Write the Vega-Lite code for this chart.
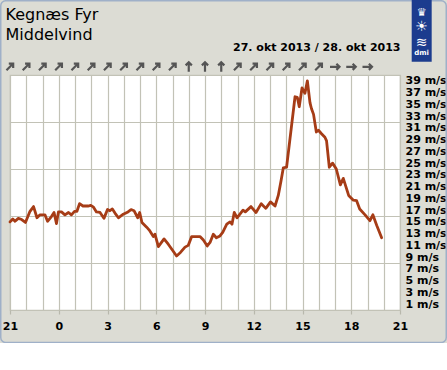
{
  "$schema": "https://vega.github.io/schema/vega-lite/v6.json",
  "width": 390,
  "height": 235,
  "autosize": "none",
  "padding": {"left": 10, "top": 75, "right": 47, "bottom": 33},
  "background": "#dcdcd4",
  "title": {
    "text": ["Kegnæs Fyr", "Middelvind"],
    "anchor": "start",
    "frame": "group",
    "dx": -4.5,
    "font": "DejaVu Sans",
    "fontSize": 16,
    "fontWeight": "normal",
    "color": "#000000",
    "lineHeight": 20,
    "offset": -44.5
  },
  "config": {
    "view": {"stroke": "#c2c2b6", "strokeWidth": 1.2, "fill": "#ffffff"}
  },
  "datasets": {
    "vind": [
      {"time": 0.00, "vind": 15.0}, {"time": 0.17, "vind": 15.5}, {"time": 0.31, "vind": 15.1},
      {"time": 0.51, "vind": 15.6}, {"time": 0.72, "vind": 15.4}, {"time": 0.95, "vind": 14.9},
      {"time": 1.23, "vind": 16.8}, {"time": 1.45, "vind": 17.6}, {"time": 1.66, "vind": 15.7},
      {"time": 1.85, "vind": 16.2}, {"time": 2.15, "vind": 16.2}, {"time": 2.31, "vind": 15.1},
      {"time": 2.55, "vind": 15.9}, {"time": 2.71, "vind": 16.6}, {"time": 2.86, "vind": 14.7},
      {"time": 2.98, "vind": 16.7}, {"time": 3.17, "vind": 16.7}, {"time": 3.38, "vind": 16.2},
      {"time": 3.60, "vind": 16.6}, {"time": 3.78, "vind": 16.2}, {"time": 3.97, "vind": 16.8},
      {"time": 4.12, "vind": 16.8}, {"time": 4.28, "vind": 18.1}, {"time": 4.49, "vind": 17.7},
      {"time": 4.80, "vind": 17.7}, {"time": 4.97, "vind": 17.8}, {"time": 5.14, "vind": 17.5},
      {"time": 5.32, "vind": 16.7}, {"time": 5.54, "vind": 16.6}, {"time": 5.78, "vind": 15.6},
      {"time": 6.00, "vind": 17.1}, {"time": 6.15, "vind": 16.9}, {"time": 6.30, "vind": 17.2},
      {"time": 6.46, "vind": 16.5}, {"time": 6.67, "vind": 15.7}, {"time": 6.97, "vind": 16.3},
      {"time": 7.26, "vind": 16.7}, {"time": 7.45, "vind": 17.1}, {"time": 7.63, "vind": 16.9},
      {"time": 7.86, "vind": 15.7}, {"time": 7.98, "vind": 16.6}, {"time": 8.12, "vind": 14.9},
      {"time": 8.41, "vind": 14.1}, {"time": 8.57, "vind": 13.6}, {"time": 8.82, "vind": 12.5},
      {"time": 8.92, "vind": 12.9}, {"time": 9.13, "vind": 10.8}, {"time": 9.48, "vind": 12.1},
      {"time": 9.74, "vind": 11.2}, {"time": 9.97, "vind": 10.3}, {"time": 10.25, "vind": 9.2},
      {"time": 10.49, "vind": 9.8}, {"time": 10.77, "vind": 10.7}, {"time": 10.97, "vind": 11.0},
      {"time": 11.18, "vind": 12.5}, {"time": 11.69, "vind": 12.5}, {"time": 11.90, "vind": 11.9},
      {"time": 12.14, "vind": 10.9}, {"time": 12.31, "vind": 11.5}, {"time": 12.51, "vind": 12.9},
      {"time": 12.70, "vind": 12.3}, {"time": 12.92, "vind": 12.6}, {"time": 13.09, "vind": 13.2},
      {"time": 13.34, "vind": 14.6}, {"time": 13.54, "vind": 15.0}, {"time": 13.66, "vind": 14.6},
      {"time": 13.80, "vind": 16.6}, {"time": 13.97, "vind": 15.7}, {"time": 14.34, "vind": 17.0},
      {"time": 14.48, "vind": 16.7}, {"time": 14.83, "vind": 17.6}, {"time": 15.14, "vind": 16.6},
      {"time": 15.46, "vind": 18.1}, {"time": 15.74, "vind": 17.3}, {"time": 16.03, "vind": 18.4},
      {"time": 16.31, "vind": 17.7}, {"time": 16.51, "vind": 19.5}, {"time": 16.68, "vind": 22.0},
      {"time": 16.82, "vind": 24.2}, {"time": 17.02, "vind": 24.3}, {"time": 17.54, "vind": 36.3},
      {"time": 17.68, "vind": 36.2}, {"time": 17.80, "vind": 34.6}, {"time": 17.97, "vind": 37.8},
      {"time": 18.15, "vind": 36.9}, {"time": 18.30, "vind": 39.0}, {"time": 18.46, "vind": 35.3},
      {"time": 18.55, "vind": 34.3}, {"time": 18.68, "vind": 33.3}, {"time": 18.85, "vind": 30.3},
      {"time": 18.98, "vind": 30.6}, {"time": 19.17, "vind": 30.0}, {"time": 19.38, "vind": 29.4},
      {"time": 19.48, "vind": 28.8}, {"time": 19.65, "vind": 24.3}, {"time": 19.85, "vind": 25.0},
      {"time": 20.08, "vind": 24.0}, {"time": 20.33, "vind": 21.3}, {"time": 20.51, "vind": 22.4},
      {"time": 20.84, "vind": 19.5}, {"time": 21.13, "vind": 18.7}, {"time": 21.33, "vind": 18.6},
      {"time": 21.52, "vind": 17.2}, {"time": 21.85, "vind": 16.2}, {"time": 22.15, "vind": 15.2},
      {"time": 22.33, "vind": 16.2}, {"time": 22.57, "vind": 14.4}, {"time": 22.87, "vind": 12.3}
    ],
    "retning": [
      {"time": 0, "retning": 45}, {"time": 1, "retning": 45}, {"time": 2, "retning": 45},
      {"time": 3, "retning": 45}, {"time": 4, "retning": 45}, {"time": 5, "retning": 45},
      {"time": 6, "retning": 45}, {"time": 7, "retning": 45}, {"time": 8, "retning": 45},
      {"time": 9, "retning": 45}, {"time": 10, "retning": 45}, {"time": 11, "retning": 0},
      {"time": 12, "retning": 0}, {"time": 13, "retning": 0}, {"time": 14, "retning": 45},
      {"time": 15, "retning": 45}, {"time": 16, "retning": 45}, {"time": 17, "retning": 45},
      {"time": 18, "retning": 45}, {"time": 19, "retning": 45}, {"time": 20, "retning": 90},
      {"time": 21, "retning": 90}, {"time": 22, "retning": 90}
    ]
  },
  "resolve": {"axis": {"x": "independent", "y": "independent"}},
  "layer": [
    {
      "data": {"values": [{}]},
      "mark": {"type": "rect", "fill": "transparent", "stroke": "#9fb0c8", "strokeWidth": 1.5, "cornerRadius": 5},
      "encoding": {
        "x": {"datum": -0.569, "type": "quantitative", "scale": {"domain": [0, 24], "nice": false, "zero": false}, "axis": null},
        "x2": {"datum": 26.846},
        "y": {"datum": 52.64, "type": "quantitative", "scale": {"domain": [0, 40], "nice": false}, "axis": null},
        "y2": {"datum": -5.53}
      }
    },
    {
      "data": {"values": [{}]},
      "mark": {"type": "rect", "fill": "#1c3c8e"},
      "encoding": {
        "x": {"datum": 24.72, "type": "quantitative", "axis": null},
        "x2": {"datum": 25.95},
        "y": {"datum": 53.0, "type": "quantitative", "axis": null},
        "y2": {"datum": 42.26}
      }
    },
    {
      "data": {"values": [{}]},
      "mark": {"type": "text", "text": "♛", "color": "#ffffff", "font": "DejaVu Sans", "fontSize": 11, "baseline": "middle", "align": "center"},
      "encoding": {
        "x": {"datum": 25.33, "type": "quantitative", "axis": null},
        "y": {"datum": 50.6, "type": "quantitative", "axis": null}
      }
    },
    {
      "data": {"values": [{}]},
      "mark": {"type": "text", "text": "☀", "color": "#ffffff", "font": "DejaVu Sans", "fontSize": 14, "baseline": "middle", "align": "center"},
      "encoding": {
        "x": {"datum": 25.33, "type": "quantitative", "axis": null},
        "y": {"datum": 48.2, "type": "quantitative", "axis": null}
      }
    },
    {
      "data": {"values": [{}]},
      "mark": {"type": "text", "text": "≋", "color": "#ffffff", "font": "DejaVu Sans", "fontSize": 14, "baseline": "middle", "align": "center"},
      "encoding": {
        "x": {"datum": 25.33, "type": "quantitative", "axis": null},
        "y": {"datum": 45.4, "type": "quantitative", "axis": null}
      }
    },
    {
      "data": {"values": [{}]},
      "mark": {"type": "text", "text": "dmi", "color": "#ffffff", "font": "DejaVu Sans", "fontWeight": "bold", "fontSize": 7, "baseline": "middle", "align": "center"},
      "encoding": {
        "x": {"datum": 25.33, "type": "quantitative", "axis": null},
        "y": {"datum": 43.66, "type": "quantitative", "axis": null}
      }
    },
    {
      "data": {"name": "vind"},
      "mark": {"type": "line", "color": "#a63c16", "strokeWidth": 2.8, "strokeJoin": "round", "strokeCap": "round"},
      "encoding": {
        "x": {
          "field": "time", "type": "quantitative",
          "axis": {
            "values": [0,1,2,3,4,5,6,7,8,9,10,11,12,13,14,15,16,17,18,19,20,21,22,23,24],
            "labelExpr": "datum.value % 3 == 0 ? '' + ((datum.value + 21) % 24) : ''",
            "grid": true, "gridColor": "#c2c2b6", "gridWidth": 1.2,
            "domain": false,
            "ticks": true, "tickSize": 4, "tickColor": "#b8b8ac", "tickWidth": 1.2,
            "tickOpacity": {"condition": {"test": "datum.value % 3 == 0", "value": 1}, "value": 0},
            "labelFont": "DejaVu Sans", "labelFontWeight": "bold", "labelFontSize": 11, "labelColor": "#000000",
            "labelPadding": 6, "labelOverlap": false, "labelFlush": false,
            "title": null
          }
        },
        "y": {
          "field": "vind", "type": "quantitative",
          "axis": {
            "orient": "right",
            "values": [0,1,3,5,7,8,9,11,13,15,16,17,19,21,23,24,25,27,29,31,32,33,35,37,39,40],
            "labelExpr": "datum.value % 2 == 1 ? datum.value + ' m/s' : ''",
            "grid": true, "gridColor": "#c2c2b6", "gridWidth": 1.2,
            "gridOpacity": {"condition": {"test": "datum.value % 8 == 0", "value": 1}, "value": 0},
            "domain": false, "ticks": false,
            "labelFont": "DejaVu Sans", "labelFontWeight": "bold", "labelFontSize": 11, "labelColor": "#000000",
            "labelAlign": "left", "labelBaseline": "middle", "labelPadding": 5, "labelOverlap": false, "labelFlush": false,
            "title": null
          }
        }
      }
    },
    {
      "data": {"name": "retning"},
      "mark": {"type": "point", "shape": "M0,1L0,-0.9M-0.62,-0.28L0,-0.9L0.62,-0.28", "filled": false, "stroke": "#555555", "strokeWidth": 2.2, "size": 100, "opacity": 1},
      "encoding": {
        "x": {
          "field": "time", "type": "quantitative",
          "axis": {
            "orient": "top",
            "title": "27. okt 2013 / 28. okt 2013",
            "titleAnchor": "end",
            "titleFont": "DejaVu Sans", "titleFontWeight": "bold", "titleFontSize": 11, "titleColor": "#000000",
            "titleBaseline": "alphabetic", "titlePadding": 25,
            "labels": false, "ticks": false, "domain": false, "grid": false
          }
        },
        "y": {"datum": 41.4, "type": "quantitative", "axis": null},
        "angle": {"field": "retning", "type": "quantitative", "scale": null}
      }
    }
  ]
}
